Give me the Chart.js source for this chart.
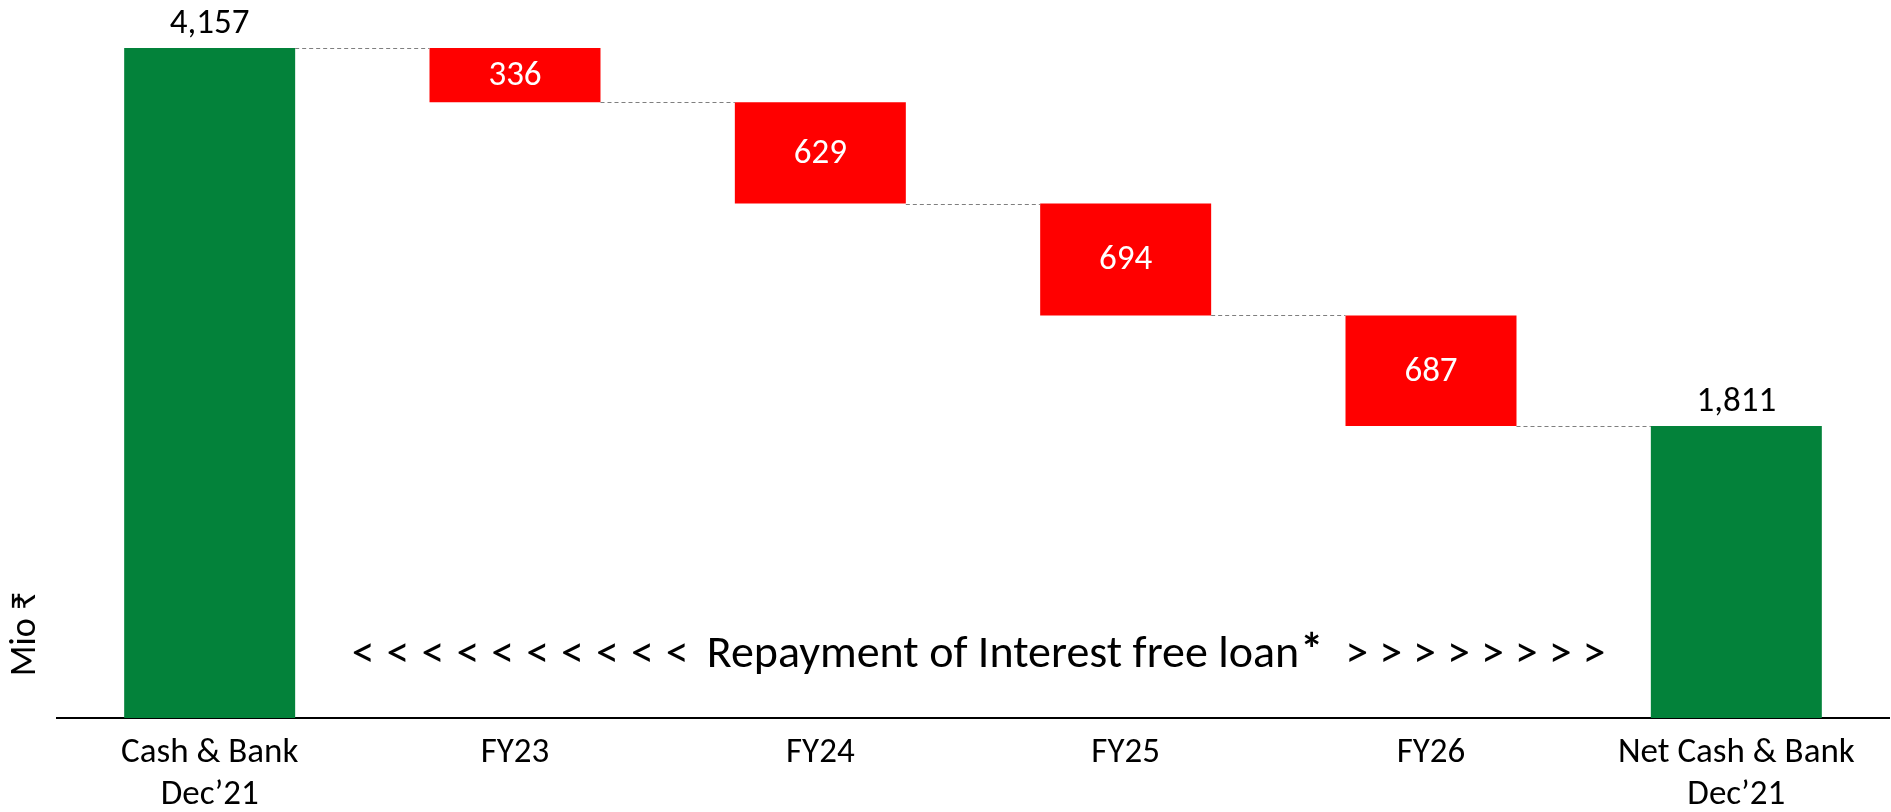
<!DOCTYPE html>
<html>
<head>
<meta charset="utf-8">
<script src="https://cdn.jsdelivr.net/npm/chart.js@4.4.1/dist/chart.umd.min.js"></script>
<style>
  html, body { margin: 0; padding: 0; background: #fff; }
  #wrap { width: 1891px; height: 812px; position: relative; }
</style>
</head>
<body>
<div id="wrap"><canvas id="waterfall"></canvas></div>
<script>
// Chart data
const categories = [['Cash & Bank', 'Dec\u201921'], 'FY23', 'FY24', 'FY25', 'FY26', ['Net Cash & Bank', 'Dec\u201921']];
const values = [4157, -336, -629, -694, -687, 1811];
const isTotal = [true, false, false, false, false, true];
const valueLabels = ['4,157', '336', '629', '694', '687', '1,811'];
const axisTitle = 'Mio \u20B9';
const bannerLeft = '<<<<<<<<<<';
const bannerText = 'Repayment of Interest free loan';
const bannerRight = '>>>>>>>>';

const FONT = 'Carlito, Calibri, Lato, sans-serif';
const GREEN = '#03823a';
const RED = '#ff0000';

// Build floating bars from running totals
let running = 0;
const ranges = values.map((v, i) => {
  if (isTotal[i]) { running = v; return [0, v]; }
  const start = running;
  running = running + v;
  return [running, start];
});
const colors = isTotal.map(t => t ? GREEN : RED);

const waterfallExtras = {
  id: 'waterfallExtras',
  afterDatasetsDraw(chart) {
    const { ctx, chartArea } = chart;
    const meta = chart.getDatasetMeta(0);
    const yScale = chart.scales.y;

    // connector lines
    ctx.save();
    ctx.strokeStyle = '#7f7f7f';
    ctx.lineWidth = 1.2;
    ctx.setLineDash([4, 3]);
    for (let i = 0; i < meta.data.length - 1; i++) {
      const a = meta.data[i], b = meta.data[i + 1];
      const level = isTotal[i] ? ranges[i][1] : ranges[i][0];
      const y = Math.round(yScale.getPixelForValue(level)) + 0.5;
      ctx.beginPath();
      ctx.moveTo(a.x + a.width / 2, y);
      ctx.lineTo(b.x - b.width / 2, y);
      ctx.stroke();
    }
    ctx.restore();

    // value labels
    ctx.save();
    ctx.textAlign = 'center';
    ctx.textBaseline = 'middle';
    meta.data.forEach((bar, i) => {
      if (isTotal[i]) {
        ctx.font = '35px ' + FONT;
        ctx.fillStyle = '#000';
        ctx.fillText(valueLabels[i], bar.x, Math.min(bar.y, bar.base) - 24);
      } else {
        ctx.font = '35px ' + FONT;
        ctx.fillStyle = '#fff';
        ctx.fillText(valueLabels[i], bar.x, (bar.y + bar.base) / 2 + 1);
      }
    });

    // banner text
    ctx.fillStyle = '#000';
    ctx.font = '46px ' + FONT;
    const by = chartArea.bottom - 63;
    const mid = (meta.data[2].x + meta.data[3].x) / 2 + 30;
    ctx.fillText(bannerText, mid, by);
    const half = ctx.measureText(bannerText).width / 2;
    ctx.textAlign = 'left';
    ctx.font = 'bold 46px ' + FONT;
    ctx.fillText('*', mid + half + 1, by - 2);
    ctx.font = '46px ' + FONT;
    ctx.letterSpacing = '12px';
    ctx.textAlign = 'right';
    ctx.fillText(bannerLeft, mid - half - 6, by);
    ctx.textAlign = 'left';
    ctx.letterSpacing = '11px';
    ctx.fillText(bannerRight, mid + half + 46, by);
    ctx.letterSpacing = '0px';

    // rotated axis title
    ctx.textAlign = 'center';
    ctx.translate(26, chartArea.bottom - 84);
    ctx.rotate(-Math.PI / 2);
    ctx.font = '36px ' + FONT;
    ctx.fillText(axisTitle, 0, 0);
    ctx.restore();
  }
};

new Chart(document.getElementById('waterfall'), {
  type: 'bar',
  data: {
    labels: categories,
    datasets: [{
      data: ranges,
      backgroundColor: colors,
      borderWidth: 0,
      categoryPercentage: 1,
      barPercentage: 0.56
    }]
  },
  options: {
    responsive: true,
    maintainAspectRatio: false,
    animation: false,
    layout: { padding: { left: 57, right: 2, top: 48, bottom: -18 } },
    plugins: {
      legend: { display: false },
      tooltip: { enabled: false }
    },
    scales: {
      x: {
        grid: { display: false, drawTicks: false },
        border: { display: true, color: '#000', width: 2 },
        ticks: { color: '#000', font: { family: FONT, size: 35, lineHeight: 1.2 }, padding: 14, maxRotation: 0, autoSkip: false }
      },
      y: {
        display: false,
        min: 0,
        max: 4157
      }
    }
  },
  plugins: [waterfallExtras]
});
</script>
</body>
</html>
